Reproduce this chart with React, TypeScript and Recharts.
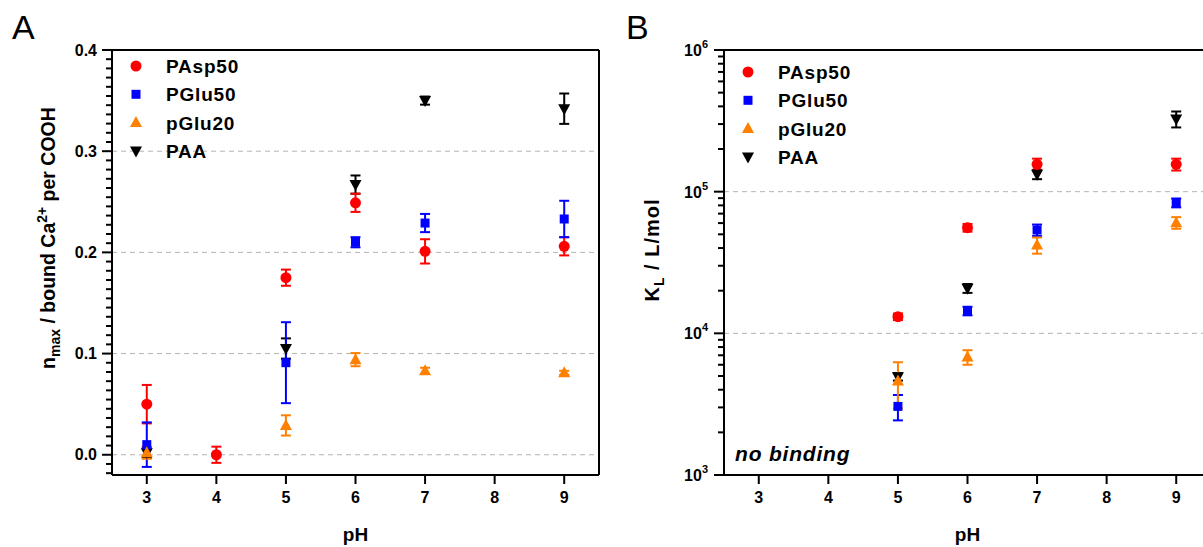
import React from "react";
import {
  ErrorBar,
  Legend,
  ReferenceLine,
  Scatter,
  ScatterChart,
  XAxis,
  YAxis,
} from "recharts";

const FONT = '"Liberation Sans", Arial, Helvetica, sans-serif';

// pH values per series (panel A)
const phAspA = [3, 4, 5, 6, 7, 9];
const phGluA = [3, 5, 6, 7, 9];
const phGlu20A = [3, 5, 6, 7, 9];
const phPaaA = [3, 5, 6, 7, 9];

// n_max values and errors (panel A)
const nAsp50 = [0.05, 0.0, 0.175, 0.249, 0.201, 0.206];
const nAsp50Err = [0.019, 0.008, 0.008, 0.009, 0.012, 0.009];
const nGlu50 = [0.01, 0.091, 0.21, 0.229, 0.233];
const nGlu50Err = [0.022, 0.04, 0.005, 0.009, 0.018];
const nGlu20 = [0.002, 0.029, 0.094, 0.083, 0.081];
const nGlu20Err = [0.006, 0.01, 0.0065, 0.003, 0.002];
const nPaa = [0.002, 0.105, 0.267, 0.35, 0.342];
const nPaaErr = [0.005, 0.01, 0.009, 0.004, 0.015];

// panel B: binding constants K_L
const phB = [5, 6, 7, 9];
const kAsp50 = [13100, 55700, 156000, 156000];
const kAsp50Err = [700, 3500, 15000, 15000];
const kGlu50 = [3050, 14400, 53600, 83500];
const kGlu50Err = [620, 1000, 5000, 6000];
const kGlu20 = [4600, 6800, 42000, 60400];
const kGlu20Err = [1650, 800, 5500, 5700];
const kPaa = [4940, 20800, 132500, 326000];
const kPaaErr = [300, 1500, 10000, 42000];

// axes
const xTicks = [3, 4, 5, 6, 7, 8, 9];
const yMajorA = [0.0, 0.1, 0.2, 0.3, 0.4];
const yLabelsA = ["0.0", "0.1", "0.2", "0.3", "0.4"];
const yMajorB = [1e3, 1e4, 1e5, 1e6];
const yExpB = ["3", "4", "5", "6"];
const gridA = [0.0, 0.1, 0.2, 0.3];
const gridB = [1e4, 1e5];

// legend
const names = ["PAsp50", "PGlu50", "pGlu20", "PAA"];
const colors = ["#ff0000", "#0000ff", "#ff8000", "#000000"];
const kinds = ["circle", "square", "up", "down"];

const zip = (xs: number[], ys: number[], es: number[]) =>
  xs.map((x, i) => ({ x, y: ys[i], err: es[i] }));

// minor ticks: 11 intervals per 0.1 on panel A, 2..9 per decade on panel B
const ticksA: number[] = [];
for (let k = -2; k <= 44; k++) ticksA.push(+(k * (0.1 / 11)).toFixed(6));
const ticksB: number[] = [];
for (let d = 3; d <= 5; d++)
  for (let m = 1; m <= 9; m++) ticksB.push(m * Math.pow(10, d));
ticksB.push(1e6);

const Marker = ({ kind, cx, cy, color }: any) => {
  if (cx == null || cy == null) return null;
  if (kind === "circle") return <circle cx={cx} cy={cy} r={5.5} fill={color} />;
  if (kind === "square")
    return <rect x={cx - 4.5} y={cy - 4.5} width={9} height={9} fill={color} />;
  if (kind === "up")
    return (
      <polygon
        points={`${cx},${cy - 6.5} ${cx + 6},${cy + 4.5} ${cx - 6},${cy + 4.5}`}
        fill={color}
      />
    );
  return (
    <polygon
      points={`${cx - 6},${cy - 4.5} ${cx + 6},${cy - 4.5} ${cx},${cy + 6.5}`}
      fill={color}
    />
  );
};

const TickA = ({ x, y, payload }: any) => {
  const v = payload.value;
  const idx = yMajorA.findIndex((m) => Math.abs(m - v) < 1e-6);
  const major = idx >= 0;
  return (
    <g>
      <line x1={x - (major ? 10 : 6)} x2={x} y1={y} y2={y} stroke="#000" strokeWidth={2} />
      {major && (
        <text x={x - 15} y={y} dy={5.5} textAnchor="end" fontSize={16} fontWeight="bold" fill="#000">
          {yLabelsA[idx]}
        </text>
      )}
    </g>
  );
};

const TickB = ({ x, y, payload }: any) => {
  const v = payload.value;
  const idx = yMajorB.findIndex((m) => Math.abs(m - v) / m < 1e-6);
  const major = idx >= 0;
  return (
    <g>
      <line x1={x - (major ? 10 : 6)} x2={x} y1={y} y2={y} stroke="#000" strokeWidth={2} />
      {major && (
        <text x={x - 16} y={y} dy={6} textAnchor="end" fontSize={16} fontWeight="bold" fill="#000">
          <tspan>10</tspan>
          <tspan dy={-8} fontSize={11}>
            {yExpB[idx]}
          </tspan>
        </text>
      )}
    </g>
  );
};

const LegendSvg = () => (
  <svg width={200} height={120}>
    {names.map((n, i) => (
      <g key={n}>
        <Marker kind={kinds[i]} cx={16} cy={14 + i * 28.3} color={colors[i]} />
        <text x={46} y={14 + i * 28.3} dy={7} fontSize={19} fontWeight="bold" letterSpacing={0.8} fill="#000" fontFamily={FONT}>
          {n}
        </text>
      </g>
    ))}
  </svg>
);

const YTitleA = () => (
  <text transform="translate(55,238) rotate(-90)" textAnchor="middle" fontSize={19.5} fontWeight="bold" fill="#000" fontFamily={FONT}>
    <tspan>n</tspan>
    <tspan dy={5} fontSize={14}>max</tspan>
    <tspan dy={-5}> / bound Ca</tspan>
    <tspan dy={-8} fontSize={14}>2+</tspan>
    <tspan dy={8}> per COOH</tspan>
  </text>
);

const YTitleB = () => (
  <text transform="translate(59,250) rotate(-90)" textAnchor="middle" fontSize={20} fontWeight="bold" fill="#000" fontFamily={FONT} letterSpacing={1}>
    <tspan>K</tspan>
    <tspan dy={5} fontSize={14}>L</tspan>
    <tspan dy={-5}> / L/mol</tspan>
  </text>
);

const seriesA = [
  zip(phAspA, nAsp50, nAsp50Err),
  zip(phGluA, nGlu50, nGlu50Err),
  zip(phGlu20A, nGlu20, nGlu20Err),
  zip(phPaaA, nPaa, nPaaErr),
];
const seriesB = [
  zip(phB, kAsp50, kAsp50Err),
  zip(phB, kGlu50, kGlu50Err),
  zip(phB, kGlu20, kGlu20Err),
  zip(phB, kPaa, kPaaErr),
];
// draw PAA first so the other markers sit on top of it
const drawOrder = [3, 0, 1, 2];

const xAxisCommon = {
  type: "number" as const,
  dataKey: "x",
  domain: [2.5, 9.5],
  ticks: xTicks,
  allowDataOverflow: true,
  interval: 0 as const,
  height: 72,
  tickSize: 9,
  tickMargin: 8,
  axisLine: { stroke: "#000", strokeWidth: 2 },
  tickLine: { stroke: "#000", strokeWidth: 2 },
  tick: { fill: "#000", fontSize: 16, fontWeight: "bold" },
  label: { value: "pH", position: "insideBottom" as const, offset: 6, fill: "#000", fontSize: 19, fontWeight: "bold" },
};

const renderSeries = (series: any[]) =>
  drawOrder.map((i) => (
    <Scatter
      key={names[i]}
      name={names[i]}
      data={series[i]}
      fill={colors[i]}
      isAnimationActive={false}
      shape={(p: any) => <Marker kind={kinds[i]} cx={p.cx} cy={p.cy} color={colors[i]} />}
    >
      <ErrorBar dataKey="err" direction="y" stroke={colors[i]} strokeWidth={2} width={5} isAnimationActive={false} />
    </Scatter>
  ));

export default function App() {
  return (
    <div style={{ position: "absolute", left: 0, top: 0, width: 1203, height: 547, overflow: "hidden", background: "#fff", fontFamily: FONT }}>
      <div style={{ position: "absolute", left: 12, top: 8, fontSize: 34, color: "#000" }}>A</div>
      <div style={{ position: "absolute", left: 626, top: 8, fontSize: 34, color: "#000" }}>B</div>

      <div style={{ position: "absolute", left: 0, top: 0 }}>
        <ScatterChart width={600} height={547} margin={{ top: 50, right: 1, left: 0, bottom: 0 }}>
          <XAxis {...xAxisCommon} />
          <YAxis
            type="number"
            dataKey="y"
            domain={[-0.02, 0.4]}
            ticks={ticksA}
            interval={0}
            allowDataOverflow
            width={112}
            tickSize={0}
            tickMargin={0}
            tickLine={false}
            axisLine={{ stroke: "#000", strokeWidth: 2 }}
            tick={<TickA />}
            label={() => <YTitleA />}
          />
          {gridA.map((v) => (
            <ReferenceLine key={v} y={v} stroke="#b4b4b4" strokeDasharray="5 4" />
          ))}
          <ReferenceLine y={0.4} stroke="#000" strokeWidth={2} />
          <ReferenceLine x={9.5} stroke="#000" strokeWidth={2} />
          <Legend verticalAlign="middle" layout="horizontal" content={() => <LegendSvg />} wrapperStyle={{ position: "absolute", left: 120, top: 52, width: 200, height: 120 }} />
          {renderSeries(seriesA)}
        </ScatterChart>
      </div>

      <div style={{ position: "absolute", left: 600, top: 0 }}>
        <ScatterChart width={612} height={547} margin={{ top: 50, right: 1, left: 0, bottom: 0 }}>
          <XAxis {...xAxisCommon} />
          <YAxis
            type="number"
            dataKey="y"
            scale="log"
            domain={[1000, 1000000]}
            ticks={ticksB}
            interval={0}
            allowDataOverflow
            width={124}
            tickSize={0}
            tickMargin={0}
            tickLine={false}
            axisLine={{ stroke: "#000", strokeWidth: 2 }}
            tick={<TickB />}
            label={() => <YTitleB />}
          />
          {gridB.map((v) => (
            <ReferenceLine key={v} y={v} stroke="#b4b4b4" strokeDasharray="5 4" />
          ))}
          <ReferenceLine y={1000000} stroke="#000" strokeWidth={2} />
          <Legend verticalAlign="middle" layout="horizontal" content={() => <LegendSvg />} wrapperStyle={{ position: "absolute", left: 132, top: 58, width: 200, height: 120 }} />
          {renderSeries(seriesB)}
        </ScatterChart>
      </div>

      <div style={{ position: "absolute", left: 735, top: 442, fontSize: 21, fontWeight: "bold", fontStyle: "italic", letterSpacing: 0.8, color: "#000" }}>
        no binding
      </div>
    </div>
  );
}
